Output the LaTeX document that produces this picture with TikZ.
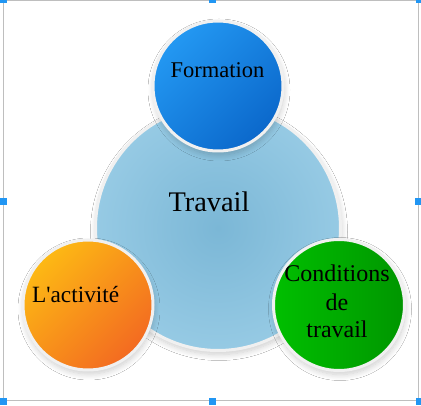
\documentclass[tikz,border=0pt]{standalone}
\usepackage{fontspec}
\setmainfont{Liberation Serif}
\usetikzlibrary{shadows.blur}
\definecolor{bluA}{HTML}{2398F2}
\definecolor{bluB}{HTML}{0B68CB}
\definecolor{oraA}{HTML}{FDB914}
\definecolor{oraB}{HTML}{F36A21}
\definecolor{grnA}{HTML}{00BF00}
\definecolor{grnB}{HTML}{009600}
\definecolor{bigIn}{HTML}{7BB7D6}
\definecolor{bigOut}{HTML}{96CAE4}
\definecolor{ring}{HTML}{F0F0F0}
\definecolor{selline}{HTML}{BEBEBE}
\definecolor{handle}{HTML}{2196F3}
\begin{document}
\begin{tikzpicture}[x=1pt,y=1pt,
  disc/.style={circle, inner sep=0pt, draw=ring, line width=3pt,
    blur shadow={shadow xshift=1pt, shadow yshift=-4pt, shadow blur radius=6pt, shadow blur steps=10, shadow opacity=20}},
  smalltxt/.style={inner sep=0pt, font=\fontsize{22.5}{28}\selectfont},
  bigtxt/.style={inner sep=0pt, font=\fontsize{28.4}{32}\selectfont},
  hnd/.style={fill=handle, draw=none, minimum size=7pt, inner sep=0pt, rectangle},
  sel/.style={draw=selline, line width=1pt}]
\useasboundingbox (0,0) rectangle (421,405);
\fill[white] (0,0) rectangle (421,405);
% selection frame
\coordinate (tl) at (3.3,404);
\coordinate (tr) at (418.5,404);
\coordinate (br) at (418.5,5);
\coordinate (bl) at (3.3,5);
\draw[sel] (tl) -- (tr) -- (br) -- (bl) -- cycle;
% big circle
\node[disc, minimum size=245pt, inner color=bigIn, outer color=bigOut] (big) at (218,177) {};
% small circles
\node[disc, minimum size=130pt, top color=bluA, bottom color=bluB, shading angle=45] (blue) at (218,319) {};
\node[disc, minimum size=130pt, top color=oraA, bottom color=oraB, shading angle=45] (orange) at (88,100) {};
\node[disc, minimum size=131pt, left color=grnA, right color=grnB] (green) at (339,100) {};
% texts
\node[bigtxt, anchor=base] (tTravail) at (209,193) {Travail};
\node[smalltxt, anchor=base] (tForm) at (217.5,327) {Formation};
\node[smalltxt, anchor=base west, font=\fontsize{23.3}{28}\selectfont] (tAct) at (32,102) {L\textquotesingle activité};
\node[smalltxt, anchor=base, font=\fontsize{24}{28}\selectfont] (tCond1) at (337,123) {Conditions};
\node[smalltxt, anchor=base, font=\fontsize{24}{28}\selectfont] (tCond2) at (337,95) {de};
\node[smalltxt, anchor=base, font=\fontsize{24}{28}\selectfont] (tCond3) at (337,67) {travail};
% handles
\node[hnd] (h1) at (3,405) {};
\node[hnd] (h2) at (212.5,405) {};
\node[hnd] (h3) at (419,405) {};
\node[hnd] (h4) at (3,203) {};
\node[hnd] (h5) at (418.5,203) {};
\node[hnd] (h6) at (3,3.5) {};
\node[hnd] (h7) at (212.5,3.5) {};
\node[hnd] (h8) at (419,3.5) {};
\end{tikzpicture}
\end{document}
